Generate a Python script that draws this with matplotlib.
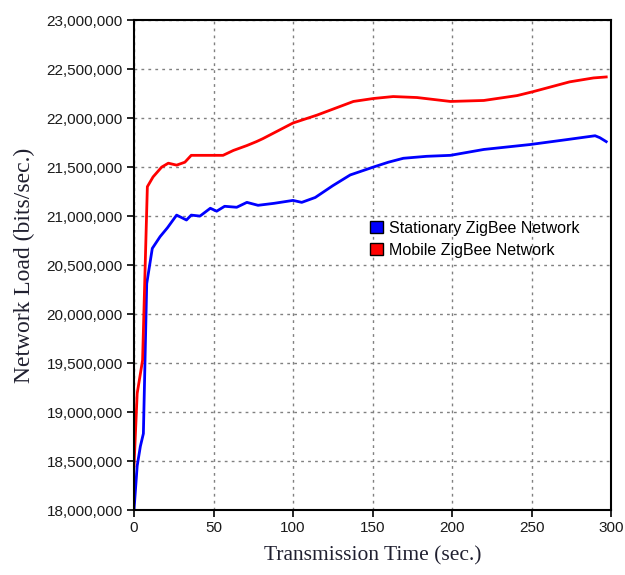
import matplotlib
matplotlib.use("Agg")
import matplotlib.pyplot as plt
from matplotlib.ticker import FuncFormatter
from matplotlib.patches import Patch

# values
time_stat = [0, 2, 4, 5.9, 8, 11.5, 16.4, 21, 26.8, 33, 36, 41.5, 48, 52, 57, 64.6,
             71, 78, 88, 100, 105.5, 114, 125, 136, 150.5, 160, 169.4, 184, 199,
             220, 249, 272, 290, 293, 297]
load_stat = [18.0e6, 18.45e6, 18.65e6, 18.78e6, 20.31e6, 20.67e6, 20.79e6, 20.88e6,
             21.01e6, 20.96e6, 21.01e6, 21.0e6, 21.08e6, 21.05e6, 21.10e6, 21.09e6,
             21.14e6, 21.11e6, 21.13e6, 21.16e6, 21.14e6, 21.19e6, 21.31e6, 21.42e6,
             21.50e6, 21.55e6, 21.59e6, 21.61e6, 21.62e6, 21.68e6, 21.73e6, 21.78e6,
             21.82e6, 21.80e6, 21.76e6]

time_mob = [0, 2, 5.4, 8.4, 12, 17.4, 21.6, 26.8, 32, 36, 45.7, 56, 62.5, 71, 77,
            81, 100, 115, 138, 150.5, 163, 178, 199, 220, 241, 251, 274, 289, 297]
load_mob = [18.45e6, 19.19e6, 19.53e6, 21.30e6, 21.40e6, 21.50e6, 21.54e6, 21.52e6,
            21.55e6, 21.62e6, 21.62e6, 21.62e6, 21.67e6, 21.72e6, 21.76e6, 21.79e6,
            21.95e6, 22.03e6, 22.17e6, 22.20e6, 22.22e6, 22.21e6, 22.17e6, 22.18e6,
            22.23e6, 22.27e6, 22.37e6, 22.41e6, 22.42e6]

series_names = ["Stationary ZigBee Network", "Mobile ZigBee Network"]
x_ticks = [0, 50, 100, 150, 200, 250, 300]
y_ticks = [18.0e6 + 0.5e6 * i for i in range(11)]

fig = plt.figure(figsize=(6.25, 5.75), dpi=100)
ax = fig.add_axes([0.2144, 0.113, 0.7632, 0.852])

ax.plot(time_stat, load_stat, color="#0000ff", lw=2.0)
ax.plot(time_mob, load_mob, color="#ff0000", lw=2.0)

ax.set_xlim(0, 300)
ax.set_ylim(18.0e6, 23.0e6)
ax.set_xticks(x_ticks)
ax.set_yticks(y_ticks)
ax.yaxis.set_major_formatter(FuncFormatter(lambda v, p: f"{int(round(v)):,}"))
ax.grid(True, color="#808080", linestyle=(0, (2, 3)), lw=1.0)
ax.set_axisbelow(True)
for s in ax.spines.values():
    s.set_linewidth(1.5)
    s.set_color("black")
ax.tick_params(direction="out", length=5, width=1.2, pad=3, labelsize=11)
for lab in ax.get_xticklabels() + ax.get_yticklabels():
    lab.set_family("Liberation Sans")
    lab.set_color("#1a1a1a")

ax.set_xlabel("Transmission Time (sec.)", family="Liberation Serif", fontsize=15.5,
              color="#202030", labelpad=8)
ax.set_ylabel("Network Load (bits/sec.)", family="Liberation Serif", fontsize=17,
              color="#202030", labelpad=8)

handles = [Patch(facecolor="#0000ff", edgecolor="black", lw=1.0),
           Patch(facecolor="#ff0000", edgecolor="black", lw=1.0)]
ax.legend(handles, series_names, loc="upper left", bbox_to_anchor=(0.465, 0.62),
          frameon=False, handlelength=0.8, handleheight=0.8, handletextpad=0.4,
          labelspacing=0.45, prop={"family": "Liberation Sans", "size": 11.5})

fig.savefig("out.png", dpi=100)
